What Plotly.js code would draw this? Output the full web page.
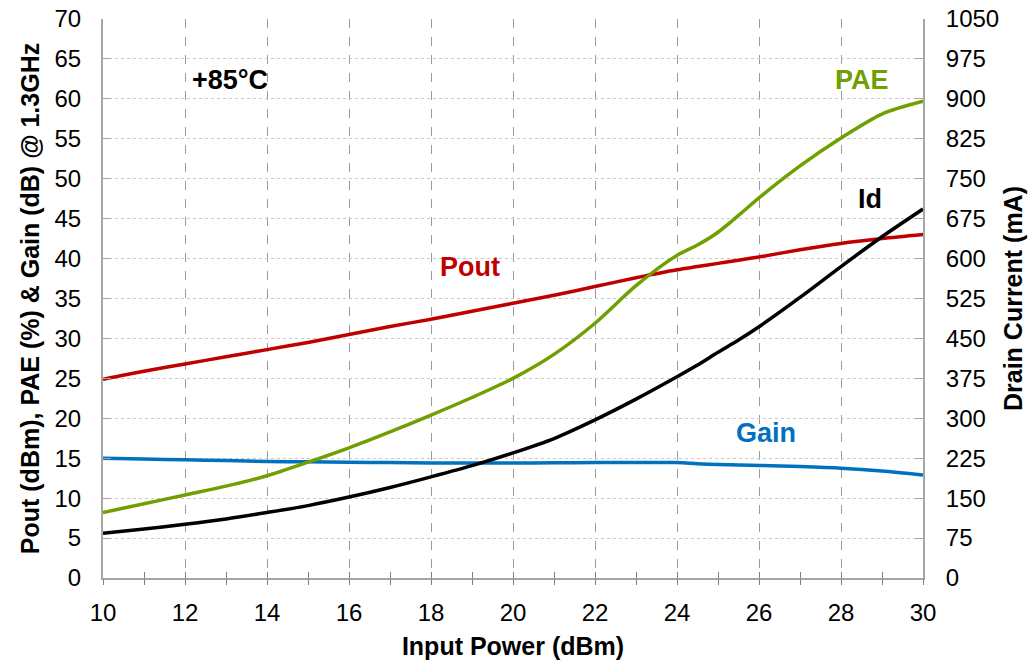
<!DOCTYPE html>
<html>
<head>
<meta charset="utf-8">
<script src="https://cdn.plot.ly/plotly-3.0.1.min.js"></script>
<style>
  html, body { margin: 0; padding: 0; background: #fff; }
  #chart { width: 1028px; height: 663px; }
</style>
</head>
<body>
<div id="chart"></div>
<script>
// Input power sweep (dBm)
const pin = [10, 11, 12, 13, 14, 15, 16, 17, 18, 19, 20, 21, 22, 23, 24, 24.5, 25, 25.5, 26, 27, 28, 29, 30];

// Output power (dBm)
const pout = [24.9, 25.9, 26.8, 27.7, 28.6, 29.5, 30.5, 31.5, 32.4, 33.4, 34.4, 35.4, 36.5, 37.6, 38.6, 39.0, 39.4, 39.8, 40.2, 41.1, 41.9, 42.5, 43.0];

// Power-added efficiency (%)
const pae = [8.2, 9.3, 10.4, 11.5, 12.8, 14.5, 16.3, 18.3, 20.4, 22.6, 25.0, 28.0, 31.9, 36.6, 40.4, 41.7, 43.3, 45.4, 47.6, 51.6, 55.1, 58.1, 59.7];

// Gain (dB)
const gain = [15.0, 14.9, 14.8, 14.7, 14.6, 14.55, 14.5, 14.45, 14.4, 14.4, 14.4, 14.42, 14.45, 14.45, 14.45, 14.3, 14.2, 14.15, 14.1, 13.95, 13.75, 13.4, 12.9];

// Drain current (mA), right axis
const idrain = [84, 92, 101, 111, 123, 136, 152, 170, 190, 211, 235, 262, 297, 336, 378, 400, 424, 447, 472, 527, 585, 641, 693];

const leftTicks = [0, 5, 10, 15, 20, 25, 30, 35, 40, 45, 50, 55, 60, 65, 70];
const rightTicks = [0, 75, 150, 225, 300, 375, 450, 525, 600, 675, 750, 825, 900, 975, 1050];
const xTicks = [10, 12, 14, 16, 18, 20, 22, 24, 26, 28, 30];

const FONT = 'Liberation Sans, Arial, sans-serif';
const C_POUT = '#c00000', C_PAE = '#6f9f00', C_GAIN = '#0070c0', C_ID = '#000000';

function curve(y, color, axis) {
  return {
    x: pin, y: y, yaxis: axis, type: 'scatter', mode: 'lines',
    line: { color: color, width: 3.5, shape: 'spline', smoothing: 0.8 },
    hoverinfo: 'skip'
  };
}

const traces = [
  curve(gain, C_GAIN, 'y'),
  curve(pout, C_POUT, 'y'),
  curve(pae, C_PAE, 'y'),
  curve(idrain, C_ID, 'y2')
];

const tickFont = { family: FONT, size: 24, color: '#000' };
const titleFont = { family: FONT, size: 25, color: '#000', weight: 'bold' };

function label(text, x, y, color, size) {
  return {
    text: '<b>' + text + '</b>', x: x, y: y, xref: 'x', yref: 'y',
    showarrow: false, xanchor: 'center', yanchor: 'middle',
    font: { family: FONT, size: size, color: color }
  };
}

const layout = {
  width: 1028, height: 663,
  margin: { l: 103, r: 105, t: 19, b: 85 },
  paper_bgcolor: '#fff', plot_bgcolor: '#fff',
  showlegend: false,
  xaxis: {
    range: [10, 30], tickvals: xTicks, ticktext: xTicks.map(String),
    showgrid: true, gridcolor: '#9a9a9a', griddash: 'dash', gridwidth: 1,
    showline: true, linecolor: '#a6a6a6', linewidth: 2,
    ticks: 'inside', ticklen: 6, tickcolor: '#808080', tickwidth: 1,
    minor: { dtick: 1, tick0: 0, ticks: 'inside', ticklen: 6, tickcolor: '#808080', showgrid: false },
    tickfont: tickFont, ticklabelstandoff: 12,
    zeroline: false,
    title: { text: 'Input Power (dBm)', font: titleFont, standoff: 13 }
  },
  xaxis2: {
    overlaying: 'x', anchor: 'y', side: 'bottom', range: [10, 30],
    tickvals: xTicks, showticklabels: false, showgrid: false, showline: false,
    ticks: 'outside', ticklen: 6, tickcolor: '#808080', tickwidth: 1,
    minor: { dtick: 1, tick0: 0, ticks: 'outside', ticklen: 6, tickcolor: '#808080', showgrid: false },
    zeroline: false
  },
  yaxis: {
    range: [0, 70], tickvals: leftTicks, ticktext: leftTicks.map(String),
    showgrid: true, gridcolor: '#c8c8c8', griddash: 'dot', gridwidth: 1,
    showline: true, linecolor: '#a6a6a6', linewidth: 2,
    ticks: 'inside', ticklen: 8, tickcolor: '#a6a6a6',
    tickfont: tickFont, ticklabelstandoff: 15,
    zeroline: false,
    title: { text: 'Pout (dBm), PAE (%) & Gain (dB) @ 1.3GHz', font: titleFont, standoff: 8 }
  },
  yaxis2: {
    overlaying: 'y', side: 'right', range: [0, 1050],
    tickvals: rightTicks, ticktext: rightTicks.map(String),
    showgrid: false, showline: true, linecolor: '#a6a6a6', linewidth: 2,
    ticks: 'inside', ticklen: 8, tickcolor: '#a6a6a6',
    tickfont: tickFont, ticklabelstandoff: 16,
    zeroline: false,
    title: { text: 'Drain Current (mA)', font: titleFont, standoff: 6 }
  },
  annotations: [
    label('+85°C', 13.09, 62.4, '#000', 27),
    label('PAE', 28.51, 62.4, C_PAE, 27),
    label('Id', 28.71, 47.4, '#000', 27),
    label('Pout', 18.96, 38.9, C_POUT, 27),
    label('Gain', 26.18, 18.2, C_GAIN, 27)
  ]
};

// Invisible point so the secondary x axis (outer tick marks) is drawn
traces.push({ x: [10], y: [-10], xaxis: 'x2', yaxis: 'y', mode: 'markers', marker: { opacity: 0 }, hoverinfo: 'skip' });

Plotly.newPlot('chart', traces, layout, { staticPlot: true, displayModeBar: false });
</script>
</body>
</html>
